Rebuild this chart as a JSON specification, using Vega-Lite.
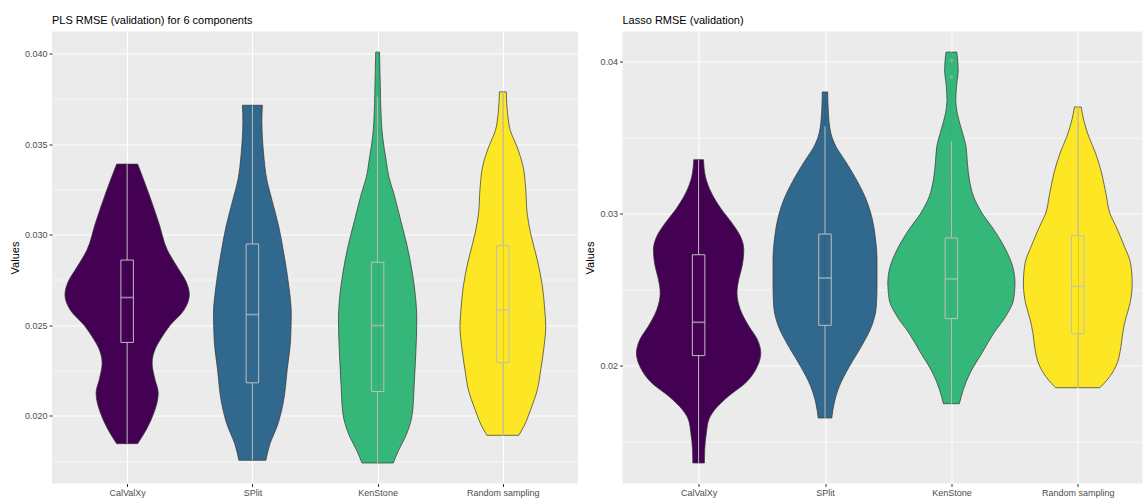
{
  "$schema": "https://vega.github.io/schema/vega-lite/v6.json",
  "padding": {"left": 9, "top": 14.5, "right": 0, "bottom": 0},
  "background": "white",
  "spacing": 6.5,
  "config": {
    "font": "Liberation Sans",
    "view": {"fill": "#EBEBEB", "stroke": null},
    "title": {"fontSize": 11, "fontWeight": "normal", "anchor": "start", "color": "#000000", "offset": 6, "frame": "group"},
    "axisX": {"title": null, "labelAngle": 0, "labelFontSize": 9, "labelColor": "#4D4D4D", "labelPadding": 1.5, "tickColor": "#333333", "tickSize": 3, "tickWidth": 1, "domain": false, "grid": true, "gridColor": "#FFFFFF", "gridWidth": 1.1},
    "axisY": {"labelFontSize": 9, "labelColor": "#4D4D4D", "labelPadding": 2, "tickColor": "#333333", "tickSize": 3, "tickWidth": 1, "domain": false, "grid": true, "gridColor": "#FFFFFF", "titleFontSize": 11, "titleFontWeight": "normal", "titleColor": "#000000", "titlePadding": 4, "labelOverlap": false, "labelFlush": false}
  },
  "datasets": {
    "violin": [
      {"panel": "PLS", "method": "CalValXy", "value": 0.03390, "density": 21},
      {"panel": "PLS", "method": "CalValXy", "value": 0.03228, "density": 43.2},
      {"panel": "PLS", "method": "CalValXy", "value": 0.03063, "density": 63.6},
      {"panel": "PLS", "method": "CalValXy", "value": 0.02916, "density": 80.4},
      {"panel": "PLS", "method": "CalValXy", "value": 0.02805, "density": 104},
      {"panel": "PLS", "method": "CalValXy", "value": 0.02743, "density": 117.6},
      {"panel": "PLS", "method": "CalValXy", "value": 0.02668, "density": 124.4},
      {"panel": "PLS", "method": "CalValXy", "value": 0.02585, "density": 114},
      {"panel": "PLS", "method": "CalValXy", "value": 0.02493, "density": 84},
      {"panel": "PLS", "method": "CalValXy", "value": 0.02428, "density": 68},
      {"panel": "PLS", "method": "CalValXy", "value": 0.02373, "density": 56.8},
      {"panel": "PLS", "method": "CalValXy", "value": 0.02291, "density": 50},
      {"panel": "PLS", "method": "CalValXy", "value": 0.02208, "density": 55},
      {"panel": "PLS", "method": "CalValXy", "value": 0.02125, "density": 62.2},
      {"panel": "PLS", "method": "CalValXy", "value": 0.02015, "density": 53.4},
      {"panel": "PLS", "method": "CalValXy", "value": 0.01932, "density": 40},
      {"panel": "PLS", "method": "CalValXy", "value": 0.01846, "density": 21},
      {"panel": "PLS", "method": "SPlit", "value": 0.03715, "density": 20},
      {"panel": "PLS", "method": "SPlit", "value": 0.03632, "density": 19},
      {"panel": "PLS", "method": "SPlit", "value": 0.03449, "density": 22.4},
      {"panel": "PLS", "method": "SPlit", "value": 0.03302, "density": 29},
      {"panel": "PLS", "method": "SPlit", "value": 0.03191, "density": 39.2},
      {"panel": "PLS", "method": "SPlit", "value": 0.03044, "density": 52.8},
      {"panel": "PLS", "method": "SPlit", "value": 0.02897, "density": 62.8},
      {"panel": "PLS", "method": "SPlit", "value": 0.02713, "density": 73},
      {"panel": "PLS", "method": "SPlit", "value": 0.02566, "density": 77.8},
      {"panel": "PLS", "method": "SPlit", "value": 0.02419, "density": 76.4},
      {"panel": "PLS", "method": "SPlit", "value": 0.02254, "density": 69.6},
      {"panel": "PLS", "method": "SPlit", "value": 0.02070, "density": 61.6},
      {"panel": "PLS", "method": "SPlit", "value": 0.01941, "density": 49.4},
      {"panel": "PLS", "method": "SPlit", "value": 0.01850, "density": 35.8},
      {"panel": "PLS", "method": "SPlit", "value": 0.01754, "density": 27},
      {"panel": "PLS", "method": "KenStone", "value": 0.04009, "density": 3.8},
      {"panel": "PLS", "method": "KenStone", "value": 0.03816, "density": 5.4},
      {"panel": "PLS", "method": "KenStone", "value": 0.03632, "density": 7.4},
      {"panel": "PLS", "method": "KenStone", "value": 0.03541, "density": 10},
      {"panel": "PLS", "method": "KenStone", "value": 0.03412, "density": 17},
      {"panel": "PLS", "method": "KenStone", "value": 0.03320, "density": 22.4},
      {"panel": "PLS", "method": "KenStone", "value": 0.03228, "density": 32.4},
      {"panel": "PLS", "method": "KenStone", "value": 0.03081, "density": 46},
      {"panel": "PLS", "method": "KenStone", "value": 0.02934, "density": 59.4},
      {"panel": "PLS", "method": "KenStone", "value": 0.02787, "density": 69.6},
      {"panel": "PLS", "method": "KenStone", "value": 0.02640, "density": 76.4},
      {"panel": "PLS", "method": "KenStone", "value": 0.02530, "density": 78.4},
      {"panel": "PLS", "method": "KenStone", "value": 0.02346, "density": 76.4},
      {"panel": "PLS", "method": "KenStone", "value": 0.02162, "density": 73},
      {"panel": "PLS", "method": "KenStone", "value": 0.02015, "density": 69.6},
      {"panel": "PLS", "method": "KenStone", "value": 0.01886, "density": 56},
      {"panel": "PLS", "method": "KenStone", "value": 0.01813, "density": 42.6},
      {"panel": "PLS", "method": "KenStone", "value": 0.01739, "density": 31.2},
      {"panel": "PLS", "method": "Random sampling", "value": 0.03789, "density": 6.8},
      {"panel": "PLS", "method": "Random sampling", "value": 0.03669, "density": 9.4},
      {"panel": "PLS", "method": "Random sampling", "value": 0.03577, "density": 14.8},
      {"panel": "PLS", "method": "Random sampling", "value": 0.03485, "density": 28.4},
      {"panel": "PLS", "method": "Random sampling", "value": 0.03375, "density": 40.6},
      {"panel": "PLS", "method": "Random sampling", "value": 0.03265, "density": 45.4},
      {"panel": "PLS", "method": "Random sampling", "value": 0.03118, "density": 48.6},
      {"panel": "PLS", "method": "Random sampling", "value": 0.03008, "density": 55.4},
      {"panel": "PLS", "method": "Random sampling", "value": 0.02860, "density": 69},
      {"panel": "PLS", "method": "Random sampling", "value": 0.02713, "density": 79.2},
      {"panel": "PLS", "method": "Random sampling", "value": 0.02585, "density": 83.8},
      {"panel": "PLS", "method": "Random sampling", "value": 0.02493, "density": 85.8},
      {"panel": "PLS", "method": "Random sampling", "value": 0.02383, "density": 82.4},
      {"panel": "PLS", "method": "Random sampling", "value": 0.02254, "density": 75.8},
      {"panel": "PLS", "method": "Random sampling", "value": 0.02144, "density": 69},
      {"panel": "PLS", "method": "Random sampling", "value": 0.02033, "density": 55.4},
      {"panel": "PLS", "method": "Random sampling", "value": 0.01941, "density": 42},
      {"panel": "PLS", "method": "Random sampling", "value": 0.01892, "density": 31.8},
      {"panel": "Lasso", "method": "CalValXy", "value": 0.03354, "density": 9.8},
      {"panel": "Lasso", "method": "CalValXy", "value": 0.03244, "density": 13.6},
      {"panel": "Lasso", "method": "CalValXy", "value": 0.03135, "density": 25.8},
      {"panel": "Lasso", "method": "CalValXy", "value": 0.03025, "density": 46.2},
      {"panel": "Lasso", "method": "CalValXy", "value": 0.02938, "density": 66.6},
      {"panel": "Lasso", "method": "CalValXy", "value": 0.02850, "density": 83.6},
      {"panel": "Lasso", "method": "CalValXy", "value": 0.02762, "density": 90.4},
      {"panel": "Lasso", "method": "CalValXy", "value": 0.02653, "density": 87},
      {"panel": "Lasso", "method": "CalValXy", "value": 0.02565, "density": 80.2},
      {"panel": "Lasso", "method": "CalValXy", "value": 0.02478, "density": 76.8},
      {"panel": "Lasso", "method": "CalValXy", "value": 0.02368, "density": 83.6},
      {"panel": "Lasso", "method": "CalValXy", "value": 0.02259, "density": 100.6},
      {"panel": "Lasso", "method": "CalValXy", "value": 0.02171, "density": 117.6},
      {"panel": "Lasso", "method": "CalValXy", "value": 0.02083, "density": 124.4},
      {"panel": "Lasso", "method": "CalValXy", "value": 0.01996, "density": 117.6},
      {"panel": "Lasso", "method": "CalValXy", "value": 0.01886, "density": 93.8},
      {"panel": "Lasso", "method": "CalValXy", "value": 0.01799, "density": 59.8},
      {"panel": "Lasso", "method": "CalValXy", "value": 0.01711, "density": 32.6},
      {"panel": "Lasso", "method": "CalValXy", "value": 0.01645, "density": 20.4},
      {"panel": "Lasso", "method": "CalValXy", "value": 0.01558, "density": 15.6},
      {"panel": "Lasso", "method": "CalValXy", "value": 0.01448, "density": 12.2},
      {"panel": "Lasso", "method": "CalValXy", "value": 0.01360, "density": 11.6},
      {"panel": "Lasso", "method": "SPlit", "value": 0.03799, "density": 5.4},
      {"panel": "Lasso", "method": "SPlit", "value": 0.03661, "density": 6.8},
      {"panel": "Lasso", "method": "SPlit", "value": 0.03529, "density": 11.6},
      {"panel": "Lasso", "method": "SPlit", "value": 0.03441, "density": 21.8},
      {"panel": "Lasso", "method": "SPlit", "value": 0.03354, "density": 38.8},
      {"panel": "Lasso", "method": "SPlit", "value": 0.03244, "density": 59.2},
      {"panel": "Lasso", "method": "SPlit", "value": 0.03113, "density": 79.6},
      {"panel": "Lasso", "method": "SPlit", "value": 0.02981, "density": 93.2},
      {"panel": "Lasso", "method": "SPlit", "value": 0.02828, "density": 101.2},
      {"panel": "Lasso", "method": "SPlit", "value": 0.02697, "density": 104},
      {"panel": "Lasso", "method": "SPlit", "value": 0.02521, "density": 104},
      {"panel": "Lasso", "method": "SPlit", "value": 0.02390, "density": 102.6},
      {"panel": "Lasso", "method": "SPlit", "value": 0.02259, "density": 93.2},
      {"panel": "Lasso", "method": "SPlit", "value": 0.02127, "density": 72.8},
      {"panel": "Lasso", "method": "SPlit", "value": 0.01996, "density": 49},
      {"panel": "Lasso", "method": "SPlit", "value": 0.01864, "density": 28.6},
      {"panel": "Lasso", "method": "SPlit", "value": 0.01755, "density": 18.4},
      {"panel": "Lasso", "method": "SPlit", "value": 0.01656, "density": 13.6},
      {"panel": "Lasso", "method": "KenStone", "value": 0.04061, "density": 10.8},
      {"panel": "Lasso", "method": "KenStone", "value": 0.03945, "density": 13.6},
      {"panel": "Lasso", "method": "KenStone", "value": 0.03836, "density": 10.2},
      {"panel": "Lasso", "method": "KenStone", "value": 0.03748, "density": 8.8},
      {"panel": "Lasso", "method": "KenStone", "value": 0.03661, "density": 11.6},
      {"panel": "Lasso", "method": "KenStone", "value": 0.03551, "density": 20.4},
      {"panel": "Lasso", "method": "KenStone", "value": 0.03441, "density": 29.2},
      {"panel": "Lasso", "method": "KenStone", "value": 0.03332, "density": 32},
      {"panel": "Lasso", "method": "KenStone", "value": 0.03222, "density": 36},
      {"panel": "Lasso", "method": "KenStone", "value": 0.03113, "density": 44.2},
      {"panel": "Lasso", "method": "KenStone", "value": 0.03003, "density": 61.2},
      {"panel": "Lasso", "method": "KenStone", "value": 0.02894, "density": 85},
      {"panel": "Lasso", "method": "KenStone", "value": 0.02762, "density": 108.8},
      {"panel": "Lasso", "method": "KenStone", "value": 0.02653, "density": 122.4},
      {"panel": "Lasso", "method": "KenStone", "value": 0.02543, "density": 127.2},
      {"panel": "Lasso", "method": "KenStone", "value": 0.02434, "density": 124.4},
      {"panel": "Lasso", "method": "KenStone", "value": 0.02324, "density": 108.8},
      {"panel": "Lasso", "method": "KenStone", "value": 0.02215, "density": 85},
      {"panel": "Lasso", "method": "KenStone", "value": 0.02083, "density": 61.2},
      {"panel": "Lasso", "method": "KenStone", "value": 0.01952, "density": 37.4},
      {"panel": "Lasso", "method": "KenStone", "value": 0.01842, "density": 23.8},
      {"panel": "Lasso", "method": "KenStone", "value": 0.01750, "density": 16},
      {"panel": "Lasso", "method": "Random sampling", "value": 0.03700, "density": 6.8},
      {"panel": "Lasso", "method": "Random sampling", "value": 0.03617, "density": 11.6},
      {"panel": "Lasso", "method": "Random sampling", "value": 0.03507, "density": 21.8},
      {"panel": "Lasso", "method": "Random sampling", "value": 0.03398, "density": 35.4},
      {"panel": "Lasso", "method": "Random sampling", "value": 0.03266, "density": 47.6},
      {"panel": "Lasso", "method": "Random sampling", "value": 0.03113, "density": 57.2},
      {"panel": "Lasso", "method": "Random sampling", "value": 0.03003, "density": 64},
      {"panel": "Lasso", "method": "Random sampling", "value": 0.02916, "density": 76.2},
      {"panel": "Lasso", "method": "Random sampling", "value": 0.02784, "density": 93.2},
      {"panel": "Lasso", "method": "Random sampling", "value": 0.02675, "density": 105.4},
      {"panel": "Lasso", "method": "Random sampling", "value": 0.02543, "density": 108.8},
      {"panel": "Lasso", "method": "Random sampling", "value": 0.02412, "density": 104.6},
      {"panel": "Lasso", "method": "Random sampling", "value": 0.02302, "density": 95.2},
      {"panel": "Lasso", "method": "Random sampling", "value": 0.02215, "density": 89.8},
      {"panel": "Lasso", "method": "Random sampling", "value": 0.02127, "density": 86.4},
      {"panel": "Lasso", "method": "Random sampling", "value": 0.01996, "density": 76.2},
      {"panel": "Lasso", "method": "Random sampling", "value": 0.01908, "density": 59.2},
      {"panel": "Lasso", "method": "Random sampling", "value": 0.01855, "density": 44.2}
    ],
    "box": [
      {"panel": "PLS", "method": "CalValXy", "lo": 0.01846, "q1": 0.02405, "median": 0.02653, "q3": 0.02860, "hi": 0.03390, "vmin": 0.01846, "vmax": 0.03390},
      {"panel": "PLS", "method": "SPlit", "lo": 0.01754, "q1": 0.02182, "median": 0.02559, "q3": 0.02949, "hi": 0.03715, "vmin": 0.01754, "vmax": 0.03715},
      {"panel": "PLS", "method": "KenStone", "lo": 0.01739, "q1": 0.02134, "median": 0.02498, "q3": 0.02848, "hi": 0.03761, "vmin": 0.01739, "vmax": 0.04009},
      {"panel": "PLS", "method": "Random sampling", "lo": 0.01892, "q1": 0.02294, "median": 0.02585, "q3": 0.02940, "hi": 0.03789, "vmin": 0.01892, "vmax": 0.03789},
      {"panel": "Lasso", "method": "CalValXy", "lo": 0.01360, "q1": 0.02066, "median": 0.02285, "q3": 0.02729, "hi": 0.03354, "vmin": 0.01360, "vmax": 0.03354},
      {"panel": "Lasso", "method": "SPlit", "lo": 0.01656, "q1": 0.02265, "median": 0.02576, "q3": 0.02865, "hi": 0.03573, "vmin": 0.01656, "vmax": 0.03799},
      {"panel": "Lasso", "method": "KenStone", "lo": 0.01750, "q1": 0.02309, "median": 0.02570, "q3": 0.02839, "hi": 0.03474, "vmin": 0.01750, "vmax": 0.04061},
      {"panel": "Lasso", "method": "Random sampling", "lo": 0.01855, "q1": 0.02210, "median": 0.02521, "q3": 0.02854, "hi": 0.03700, "vmin": 0.01855, "vmax": 0.03700}
    ],
    "outlier": [
      {"panel": "Lasso", "method": "KenStone", "value": 0.04007},
      {"panel": "Lasso", "method": "KenStone", "value": 0.03897}
    ]
  },
  "hconcat": [
    {
      "title": "PLS RMSE (validation) for 6 components",
      "width": 526,
      "height": 452,
      "resolve": {"scale": {"xOffset": "independent"}},
      "layer": [
        {
          "data": {"name": "violin"},
          "transform": [{"filter": "datum.panel == 'PLS'"}],
          "mark": {"type": "area", "orient": "horizontal", "interpolate": "monotone", "stroke": "#333333", "strokeWidth": 0.7},
          "encoding": {
            "x": {"field": "method", "type": "nominal", "scale": {"type": "point", "padding": 0.6, "domain": ["CalValXy", "SPlit", "KenStone", "Random sampling"]}, "axis": {"title": null}},
            "x2": {"field": "method"},
            "xOffset": {"field": "density", "type": "quantitative", "scale": {"domain": [0, 100], "range": [0, 50]}},
            "y": {"field": "value", "type": "quantitative", "title": "Values", "stack": null,
              "scale": {"domain": [0.016258, 0.041225], "nice": false, "zero": false},
              "axis": {"values": [0.0175, 0.02, 0.0225, 0.025, 0.0275, 0.03, 0.0325, 0.035, 0.0375, 0.04],
                "labelExpr": "abs(datum.value*200 - round(datum.value*200)) > 0.01 ? '' : format(datum.value, '.3f')",
                "gridWidth": {"condition": {"test": "abs(datum.value*200 - round(datum.value*200)) > 0.01", "value": 0.55}, "value": 1.1},
                "tickOpacity": {"condition": {"test": "abs(datum.value*200 - round(datum.value*200)) > 0.01", "value": 0}, "value": 1}}},
            "color": {"field": "method", "type": "nominal", "scale": {"domain": ["CalValXy", "SPlit", "KenStone", "Random sampling"], "range": ["#440154", "#31688E", "#35B779", "#FDE725"]}, "legend": null}
          }
        },
        {
          "data": {"name": "violin"},
          "transform": [{"filter": "datum.panel == 'PLS'"}],
          "mark": {"type": "area", "orient": "horizontal", "interpolate": "monotone", "stroke": "#333333", "strokeWidth": 0.7},
          "encoding": {
            "x": {"field": "method", "type": "nominal"},
            "x2": {"field": "method"},
            "xOffset": {"field": "density", "type": "quantitative", "scale": {"domain": [0, 100], "range": [0, -50]}},
            "y": {"field": "value", "type": "quantitative", "title": "Values", "stack": null},
            "color": {"field": "method", "type": "nominal", "legend": null}
          }
        },
        {
          "data": {"name": "box"},
          "transform": [{"filter": "datum.panel == 'PLS'"}],
          "mark": {"type": "rule", "strokeWidth": 1.6},
          "encoding": {
            "x": {"field": "method", "type": "nominal"},
            "y": {"field": "vmin", "type": "quantitative", "title": "Values"},
            "y2": {"field": "vmax"},
            "color": {"field": "method", "type": "nominal", "legend": null}
          }
        },
        {
          "data": {"name": "box"},
          "transform": [{"filter": "datum.panel == 'PLS'"}],
          "mark": {"type": "rule", "color": "#BEBEBE", "strokeWidth": 1},
          "encoding": {
            "x": {"field": "method", "type": "nominal"},
            "y": {"field": "lo", "type": "quantitative", "title": "Values"},
            "y2": {"field": "q1"}
          }
        },
        {
          "data": {"name": "box"},
          "transform": [{"filter": "datum.panel == 'PLS'"}],
          "mark": {"type": "rule", "color": "#BEBEBE", "strokeWidth": 1},
          "encoding": {
            "x": {"field": "method", "type": "nominal"},
            "y": {"field": "q3", "type": "quantitative", "title": "Values"},
            "y2": {"field": "hi"}
          }
        },
        {
          "data": {"name": "box"},
          "transform": [{"filter": "datum.panel == 'PLS'"}],
          "mark": {"type": "bar", "size": 12.5, "fillOpacity": 0, "stroke": "#BEBEBE", "strokeWidth": 1},
          "encoding": {
            "x": {"field": "method", "type": "nominal"},
            "y": {"field": "q1", "type": "quantitative", "title": "Values"},
            "y2": {"field": "q3"}
          }
        },
        {
          "data": {"name": "box"},
          "transform": [{"filter": "datum.panel == 'PLS'"}],
          "mark": {"type": "tick", "size": 12.5, "thickness": 1.6, "color": "#BEBEBE"},
          "encoding": {
            "x": {"field": "method", "type": "nominal"},
            "y": {"field": "median", "type": "quantitative", "title": "Values"}
          }
        }
      ]
    },
    {
      "title": "Lasso RMSE (validation)",
      "width": 520,
      "height": 452,
      "resolve": {"scale": {"xOffset": "independent"}},
      "layer": [
        {
          "data": {"name": "violin"},
          "transform": [{"filter": "datum.panel == 'Lasso'"}],
          "mark": {"type": "area", "orient": "horizontal", "interpolate": "monotone", "stroke": "#333333", "strokeWidth": 0.7},
          "encoding": {
            "x": {"field": "method", "type": "nominal", "scale": {"type": "point", "padding": 0.557, "align": 0.5405, "domain": ["CalValXy", "SPlit", "KenStone", "Random sampling"]}, "axis": {"title": null}},
            "x2": {"field": "method"},
            "xOffset": {"field": "density", "type": "quantitative", "scale": {"domain": [0, 100], "range": [0, 50]}},
            "y": {"field": "value", "type": "quantitative", "title": "Values", "stack": null,
              "scale": {"domain": [0.012253, 0.041964], "nice": false, "zero": false},
              "axis": {"values": [0.015, 0.02, 0.025, 0.03, 0.035, 0.04],
                "labelExpr": "abs(datum.value*100 - round(datum.value*100)) > 0.01 ? '' : format(datum.value, '.2f')",
                "gridWidth": {"condition": {"test": "abs(datum.value*100 - round(datum.value*100)) > 0.01", "value": 0.55}, "value": 1.1},
                "tickOpacity": {"condition": {"test": "abs(datum.value*100 - round(datum.value*100)) > 0.01", "value": 0}, "value": 1}}},
            "color": {"field": "method", "type": "nominal", "scale": {"domain": ["CalValXy", "SPlit", "KenStone", "Random sampling"], "range": ["#440154", "#31688E", "#35B779", "#FDE725"]}, "legend": null}
          }
        },
        {
          "data": {"name": "violin"},
          "transform": [{"filter": "datum.panel == 'Lasso'"}],
          "mark": {"type": "area", "orient": "horizontal", "interpolate": "monotone", "stroke": "#333333", "strokeWidth": 0.7},
          "encoding": {
            "x": {"field": "method", "type": "nominal"},
            "x2": {"field": "method"},
            "xOffset": {"field": "density", "type": "quantitative", "scale": {"domain": [0, 100], "range": [0, -50]}},
            "y": {"field": "value", "type": "quantitative", "title": "Values", "stack": null},
            "color": {"field": "method", "type": "nominal", "legend": null}
          }
        },
        {
          "data": {"name": "box"},
          "transform": [{"filter": "datum.panel == 'Lasso'"}],
          "mark": {"type": "rule", "strokeWidth": 1.6},
          "encoding": {
            "x": {"field": "method", "type": "nominal"},
            "y": {"field": "vmin", "type": "quantitative", "title": "Values"},
            "y2": {"field": "vmax"},
            "color": {"field": "method", "type": "nominal", "legend": null}
          }
        },
        {
          "data": {"name": "box"},
          "transform": [{"filter": "datum.panel == 'Lasso'"}],
          "mark": {"type": "rule", "color": "#BEBEBE", "strokeWidth": 1},
          "encoding": {
            "x": {"field": "method", "type": "nominal"},
            "y": {"field": "lo", "type": "quantitative", "title": "Values"},
            "y2": {"field": "q1"}
          }
        },
        {
          "data": {"name": "box"},
          "transform": [{"filter": "datum.panel == 'Lasso'"}],
          "mark": {"type": "rule", "color": "#BEBEBE", "strokeWidth": 1},
          "encoding": {
            "x": {"field": "method", "type": "nominal"},
            "y": {"field": "q3", "type": "quantitative", "title": "Values"},
            "y2": {"field": "hi"}
          }
        },
        {
          "data": {"name": "box"},
          "transform": [{"filter": "datum.panel == 'Lasso'"}],
          "mark": {"type": "bar", "size": 12.5, "fillOpacity": 0, "stroke": "#BEBEBE", "strokeWidth": 1},
          "encoding": {
            "x": {"field": "method", "type": "nominal"},
            "y": {"field": "q1", "type": "quantitative", "title": "Values"},
            "y2": {"field": "q3"}
          }
        },
        {
          "data": {"name": "box"},
          "transform": [{"filter": "datum.panel == 'Lasso'"}],
          "mark": {"type": "tick", "size": 12.5, "thickness": 1.6, "color": "#BEBEBE"},
          "encoding": {
            "x": {"field": "method", "type": "nominal"},
            "y": {"field": "median", "type": "quantitative", "title": "Values"}
          }
        },
        {
          "data": {"name": "outlier"},
          "transform": [{"filter": "datum.panel == 'Lasso'"}],
          "mark": {"type": "point", "filled": true, "size": 14, "color": "#BEBEBE", "opacity": 0.45},
          "encoding": {
            "x": {"field": "method", "type": "nominal"},
            "y": {"field": "value", "type": "quantitative", "title": "Values"}
          }
        }
      ]
    }
  ]
}
